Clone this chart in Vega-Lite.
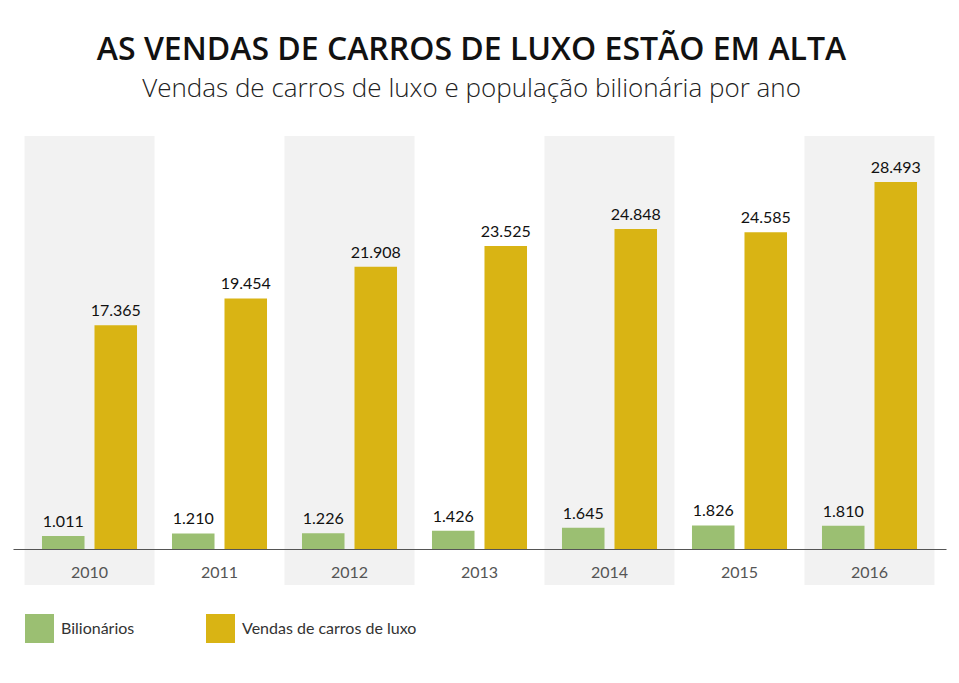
{
  "$schema": "https://vega.github.io/schema/vega-lite/v6.json",
  "width": 933,
  "height": 449,
  "autosize": "none",
  "padding": {"left": 13, "top": 136, "right": 13, "bottom": 98},
  "background": "white",
  "title": {
    "text": "AS VENDAS DE CARROS DE LUXO ESTÃO EM ALTA",
    "subtitle": "Vendas de carros de luxo e população bilionária por ano",
    "anchor": "middle",
    "frame": "group",
    "dx": -8,
    "offset": 33,
    "font": "Open Sans",
    "fontSize": 32,
    "fontWeight": 600,
    "color": "#111111",
    "subtitleFont": "Open Sans",
    "subtitleFontSize": 26,
    "subtitleFontWeight": 300,
    "subtitleColor": "#222222",
    "subtitlePadding": 9
  },
  "datasets": {
    "vendas": [
      {"ano": "2010", "serie": "Bilionários", "valor": 1011},
      {"ano": "2010", "serie": "Vendas de carros de luxo", "valor": 17365},
      {"ano": "2011", "serie": "Bilionários", "valor": 1210},
      {"ano": "2011", "serie": "Vendas de carros de luxo", "valor": 19454},
      {"ano": "2012", "serie": "Bilionários", "valor": 1226},
      {"ano": "2012", "serie": "Vendas de carros de luxo", "valor": 21908},
      {"ano": "2013", "serie": "Bilionários", "valor": 1426},
      {"ano": "2013", "serie": "Vendas de carros de luxo", "valor": 23525},
      {"ano": "2014", "serie": "Bilionários", "valor": 1645},
      {"ano": "2014", "serie": "Vendas de carros de luxo", "valor": 24848},
      {"ano": "2015", "serie": "Bilionários", "valor": 1826},
      {"ano": "2015", "serie": "Vendas de carros de luxo", "valor": 24585},
      {"ano": "2016", "serie": "Bilionários", "valor": 1810},
      {"ano": "2016", "serie": "Vendas de carros de luxo", "valor": 28493}
    ],
    "faixas": [
      {"ano": "2010"}, {"ano": "2012"}, {"ano": "2014"}, {"ano": "2016"}
    ]
  },
  "encoding": {
    "x": {
      "field": "ano",
      "type": "ordinal",
      "sort": ["2010", "2011", "2012", "2013", "2014", "2015", "2016"],
      "scale": {"domain": ["2010", "2011", "2012", "2013", "2014", "2015", "2016"], "paddingInner": 0, "paddingOuter": 0.0885},
      "axis": {
        "title": null,
        "orient": "bottom",
        "offset": -36,
        "zindex": 1,
        "ticks": false,
        "labelAngle": 0,
        "labelPadding": 15,
        "labelFont": "Lato",
        "labelFontSize": 16,
        "labelColor": "#555555",
        "domainColor": "#555555",
        "domainWidth": 1.2
      }
    }
  },
  "layer": [
    {
      "data": {"name": "faixas"},
      "mark": {"type": "rect", "color": "#f2f2f2"},
      "encoding": {}
    },
    {
      "data": {"name": "vendas"},
      "mark": {"type": "bar"},
      "encoding": {
        "xOffset": {"field": "serie", "type": "nominal", "scale": {"paddingInner": 0.19, "paddingOuter": 0.333}},
        "y": {"field": "valor", "type": "quantitative", "axis": null, "scale": {"domain": [-2795, 32065], "nice": false, "zero": false}},
        "color": {
          "field": "serie",
          "type": "nominal",
          "scale": {"domain": ["Bilionários", "Vendas de carros de luxo"], "range": ["#9bbf72", "#d9b414"]},
          "legend": {
            "title": null,
            "orient": "bottom",
            "direction": "horizontal",
            "offset": 17,
            "padding": 12,
            "symbolType": "square",
            "symbolSize": 841,
            "symbolStrokeWidth": 0,
            "symbolOpacity": 1,
            "labelFont": "Lato",
            "labelFontSize": 16,
            "labelColor": "#333333",
            "labelOffset": 7,
            "labelLimit": 400,
            "columnPadding": 71
          }
        }
      }
    },
    {
      "data": {"name": "vendas"},
      "mark": {"type": "text", "baseline": "bottom", "dy": -6, "font": "Lato", "fontSize": 16, "color": "#111111"},
      "encoding": {
        "xOffset": {"field": "serie", "type": "nominal", "scale": {"paddingInner": 0.19, "paddingOuter": 0.333}},
        "y": {"field": "valor", "type": "quantitative"},
        "text": {"field": "valor", "type": "quantitative", "format": ",d"}
      }
    }
  ],
  "config": {
    "view": {"stroke": null},
    "locale": {"number": {"decimal": ",", "thousands": ".", "grouping": [3], "currency": ["R$ ", ""]}}
  }
}
